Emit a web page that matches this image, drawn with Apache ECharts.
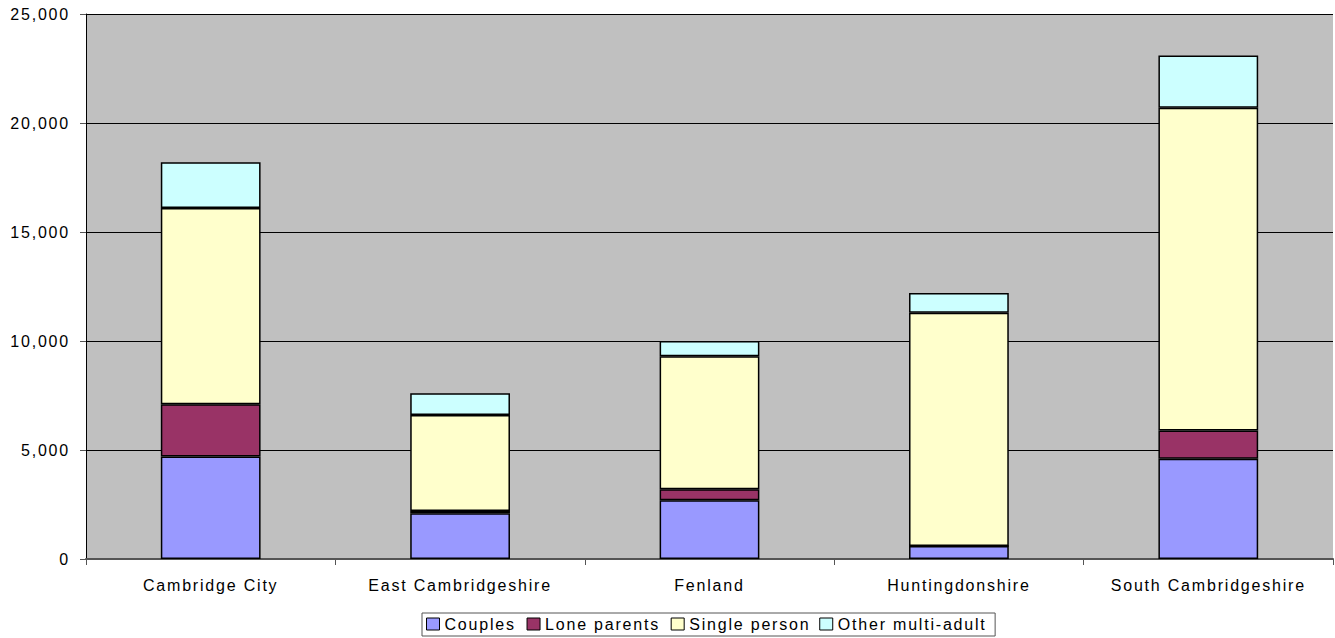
<!DOCTYPE html>
<html>
<head>
<meta charset="utf-8">
<script src="https://cdn.jsdelivr.net/npm/echarts@6/dist/echarts.min.js"></script>
<style>
html,body{margin:0;padding:0;background:#fff;}
#chart{width:1335px;height:638px;}
#chart text{letter-spacing:1.8px;}
</style>
</head>
<body>
<div id="chart"></div>
<script>
// Households by type and district
const districts = ['Cambridge City', 'East Cambridgeshire', 'Fenland', 'Huntingdonshire', 'South Cambridgeshire'];
const couples = [4700, 2100, 2700, 600, 4600];
const loneParents = [2400, 100, 500, 0, 1300];
const singlePerson = [9000, 4400, 6100, 10700, 14800];
const otherMultiAdult = [2100, 1000, 700, 900, 2400];
const yTicks = [0, 5000, 10000, 15000, 20000, 25000];

const seriesDefs = [
  { name: 'Couples', data: couples, color: '#9999FF' },
  { name: 'Lone parents', data: loneParents, color: '#993366' },
  { name: 'Single person', data: singlePerson, color: '#FFFFCC' },
  { name: 'Other multi-adult', data: otherMultiAdult, color: '#CCFFFF' }
];

const font = '"Liberation Sans", Arial, sans-serif';
const fontSize = 16;
const letterSpacing = 1.8; // same value as the CSS rule on svg text

// Legend layout measures text without the CSS letter spacing, so each label
// is followed by enough no-break spaces to cover the extra width.
const measureCtx = document.createElement('canvas').getContext('2d');
measureCtx.font = fontSize + 'px ' + font;
const nbspWidth = measureCtx.measureText('\u00a0').width || fontSize * 0.278;
const padLabel = t => t + '\u00a0'.repeat(Math.round(t.length * letterSpacing / nbspWidth));

const chart = echarts.init(document.getElementById('chart'), null, { renderer: 'svg' });

chart.setOption({
  animation: false,
  backgroundColor: '#ffffff',
  grid: {
    left: 86, right: 2, top: 14, bottom: 79,
    show: true, backgroundColor: '#C0C0C0', borderWidth: 0
  },
  legend: {
    bottom: 2,
    left: 422,
    icon: 'rect',
    itemWidth: 13,
    itemHeight: 12,
    itemGap: 10,
    padding: [3, 8, 4, 4],
    borderColor: '#555',
    borderWidth: 1,
    backgroundColor: '#ffffff',
    textStyle: { fontFamily: font, fontSize: fontSize, color: '#000' },
    itemStyle: { borderColor: '#000', borderWidth: 1 },
    formatter: padLabel,
    data: seriesDefs.map(s => s.name)
  },
  xAxis: {
    type: 'category',
    data: districts,
    boundaryGap: true,
    axisLine: { lineStyle: { color: '#555', width: 2 } },
    axisTick: { show: true, length: 6, lineStyle: { color: '#555' } },
    axisLabel: { fontFamily: font, fontSize: fontSize, color: '#000', margin: 18 }
  },
  yAxis: {
    type: 'value',
    min: yTicks[0],
    max: yTicks[yTicks.length - 1],
    interval: yTicks[1] - yTicks[0],
    axisLine: { show: true, lineStyle: { color: '#000', width: 1 } },
    axisTick: { show: true, length: 6, lineStyle: { color: '#555' } },
    axisLabel: {
      fontFamily: font, fontSize: fontSize, color: '#000', margin: 16,
      formatter: v => v.toLocaleString('en-US')
    },
    splitLine: { show: true, lineStyle: { color: '#000', width: 1 } }
  },
  series: seriesDefs.map(s => ({
    name: s.name,
    type: 'bar',
    stack: 'total',
    data: s.data,
    barCategoryGap: '60%',
    itemStyle: { color: s.color, borderColor: '#000', borderWidth: 1.5 }
  }))
});
</script>
</body>
</html>
